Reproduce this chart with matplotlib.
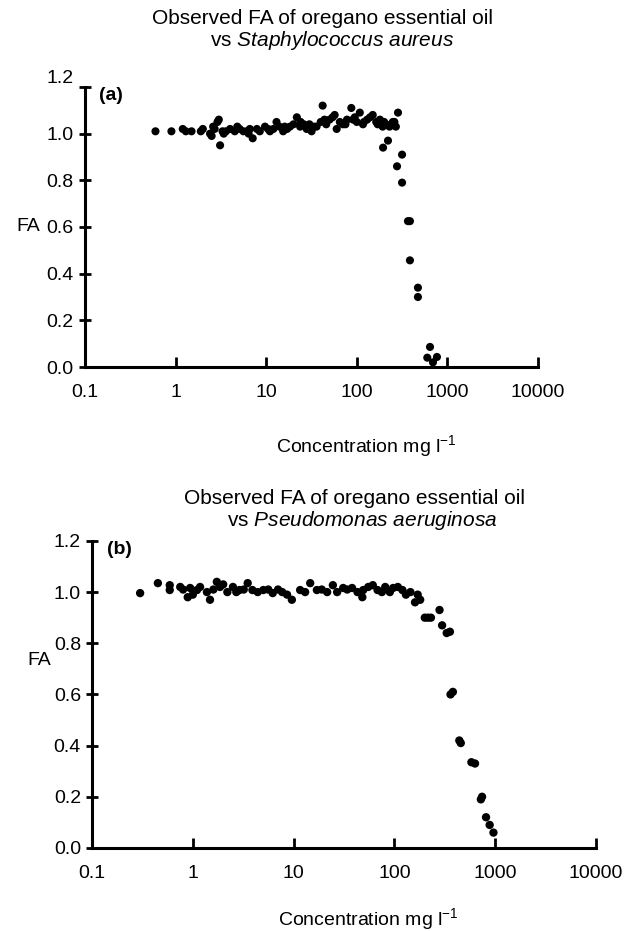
import matplotlib
matplotlib.use("Agg")
import matplotlib.pyplot as plt

plt.rcParams['font.family'] = ['Liberation Sans', 'DejaVu Sans']
plt.rcParams['mathtext.fontset'] = 'custom'
plt.rcParams['mathtext.rm'] = 'Liberation Sans'
plt.rcParams['mathtext.it'] = 'Liberation Sans:italic'

# panel (a): oregano oil vs S. aureus  (concentration mg/l, FA)
conc_a = [0.6, 0.9, 1.2, 1.5, 1.9, 2.0, 2.4, 2.5, 2.6, 2.9, 3.0, 3.1, 3.3, 3.6,
          4.0, 4.5, 5.1, 5.6, 6.1, 6.6, 7.1, 7.9, 8.5, 9.7, 11, 12, 13, 14,
          15.4, 17, 18.3, 20, 21.8, 23.7, 26, 28, 31.7, 34, 36, 40, 42, 46,
          50, 57, 60, 65, 70, 78, 87, 91, 100, 108, 117, 130, 150, 164, 180,
          193, 210, 230, 250, 270, 285,
          1.3, 2.7, 3.4, 4.8, 6.4, 10.5, 16, 24, 30, 44, 54, 75, 95, 120,
          140, 170, 200, 240, 260,
          195, 221, 278, 316, 316, 367, 386, 386, 473, 473, 600, 643, 693, 767]
fa_a = [1.01, 1.01, 1.02, 1.01, 1.01, 1.02, 1.00, 0.99, 1.03, 1.05, 1.06, 0.95,
        1.01, 1.01, 1.02, 1.01, 1.02, 1.01, 1.01, 1.02, 0.98, 1.02, 1.01, 1.03,
        1.01, 1.02, 1.05, 1.03, 1.01, 1.02, 1.03, 1.04, 1.07, 1.03, 1.04, 1.02,
        1.01, 1.03, 1.03, 1.05, 1.12, 1.04, 1.06, 1.08, 1.02, 1.05, 1.04, 1.06,
        1.11, 1.06, 1.05, 1.09, 1.04, 1.06, 1.08, 1.05, 1.06, 1.03, 1.04, 1.03,
        1.05, 1.03, 1.09,
        1.01, 1.02, 1.00, 1.03, 1.00, 1.02, 1.03, 1.05, 1.04, 1.06, 1.07, 1.04,
        1.07, 1.05, 1.07, 1.04, 1.05, 1.04, 1.05,
        0.94, 0.97, 0.86, 0.91, 0.79, 0.625, 0.625, 0.457, 0.34, 0.30, 0.04,
        0.086, 0.02, 0.043]

# panel (b): oregano oil vs P. aeruginosa
conc_b = [0.30, 0.45, 0.59, 0.59, 0.75, 0.89, 0.94, 1.1, 1.18, 1.38, 1.48, 1.73,
          1.86, 2.2, 2.5, 2.9, 3.5, 3.9, 5.0, 6.2, 7.7, 9.6, 11.6, 14.6, 17,
          21.5, 24.5, 31, 38, 48, 49, 61, 68, 81, 97, 120, 144, 160,
          0.8, 1.0, 1.6, 2.0, 2.7, 3.2, 4.4, 5.6, 7.0, 8.6, 13, 19, 27, 34,
          43, 55, 75, 90, 108, 130,
          170, 180, 200, 215, 230, 280, 297, 330, 355, 360, 380, 440, 455,
          580, 630, 720, 740, 810, 880, 960]
fa_b = [0.996, 1.035, 1.027, 1.008, 1.02, 0.98, 1.016, 1.008, 1.02, 1.0, 0.97,
        1.04, 1.02, 1.0, 1.02, 1.008, 1.035, 1.008, 1.008, 0.996, 1.0, 0.97,
        1.008, 1.035, 1.008, 1.0, 1.027, 1.016, 1.016, 0.98, 1.008, 1.027,
        1.008, 1.02, 1.016, 1.008, 1.0, 0.96,
        1.01, 0.99, 1.01, 1.03, 1.0, 1.01, 1.0, 1.01, 1.01, 0.99, 1.0, 1.01,
        1.0, 1.01, 1.0, 1.02, 1.0, 1.0, 1.02, 0.99,
        0.99, 0.97, 0.90, 0.90, 0.90, 0.93, 0.87, 0.84, 0.845, 0.60, 0.61,
        0.42, 0.41, 0.335, 0.33, 0.19, 0.20, 0.12, 0.09, 0.06]

xticks = [0.1, 1, 10, 100, 1000, 10000]
xtick_labels = ["0.1", "1", "10", "100", "1000", "10000"]
yticks = [0.0, 0.2, 0.4, 0.6, 0.8, 1.0, 1.2]
ytick_labels = ["0.0", "0.2", "0.4", "0.6", "0.8", "1.0", "1.2"]


def style_axis(ax, tag):
    ax.set_xscale("log")
    ax.set_xlim(0.1, 10000)
    ax.set_ylim(0, 1.2)
    ax.set_xticks(xticks)
    ax.set_xticklabels(xtick_labels)
    ax.minorticks_off()
    ax.set_yticks(yticks)
    ax.set_yticklabels(ytick_labels)
    for side in ["top", "right"]:
        ax.spines[side].set_visible(False)
    for side in ["left", "bottom"]:
        ax.spines[side].set_linewidth(2.2)
    ax.tick_params(axis="x", direction="in", length=7, width=2, labelsize=14, pad=12)
    ax.tick_params(axis="y", direction="inout", length=8, width=2, labelsize=14, pad=4)
    ax.text(0.03, 1.0, tag, transform=ax.transAxes, fontsize=14,
            fontweight="bold", va="top", ha="left")


fig = plt.figure(figsize=(6.36, 9.31), dpi=100)

ax1 = fig.add_axes([0.1336, 0.6058, 0.7123, 0.3008])
ax1.scatter(conc_a, fa_a, s=34, c="black", edgecolors="none", clip_on=False, zorder=3)
style_axis(ax1, "(a)")
ax1.get_yticklabels()[-1].set_verticalalignment("bottom")
ax1.set_ylabel("FA", rotation=0, fontsize=14, va="center", ha="center")
ax1.yaxis.set_label_coords(-0.125, 0.5)
ax1.set_xlabel("Concentration mg l$^{-1}$", fontsize=14)
ax1.xaxis.set_label_coords(0.62, -0.235)

ax2 = fig.add_axes([0.1447, 0.0892, 0.7925, 0.3298])
ax2.scatter(conc_b, fa_b, s=36, c="black", edgecolors="none", clip_on=False, zorder=3)
style_axis(ax2, "(b)")
ax2.set_ylabel("FA", rotation=0, fontsize=14, va="center", ha="center")
ax2.yaxis.set_label_coords(-0.105, 0.61)
ax2.set_xlabel("Concentration mg l$^{-1}$", fontsize=14)
ax2.xaxis.set_label_coords(0.548, -0.19)

fig.text(322 / 636, 1 - 18 / 931, "Observed FA of oregano essential oil",
         ha="center", va="center", fontsize=15)
fig.text(332 / 636, 1 - 41 / 931, "vs $\\it{Staphylococcus\\ aureus}$",
         ha="center", va="center", fontsize=15)
fig.text(355 / 636, 1 - 498 / 931, "Observed FA of oregano essential oil",
         ha="center", va="center", fontsize=15)
fig.text(362 / 636, 1 - 521 / 931, "vs $\\it{Pseudomonas\\ aeruginosa}$",
         ha="center", va="center", fontsize=15)

fig.savefig("out.png", dpi=100)
